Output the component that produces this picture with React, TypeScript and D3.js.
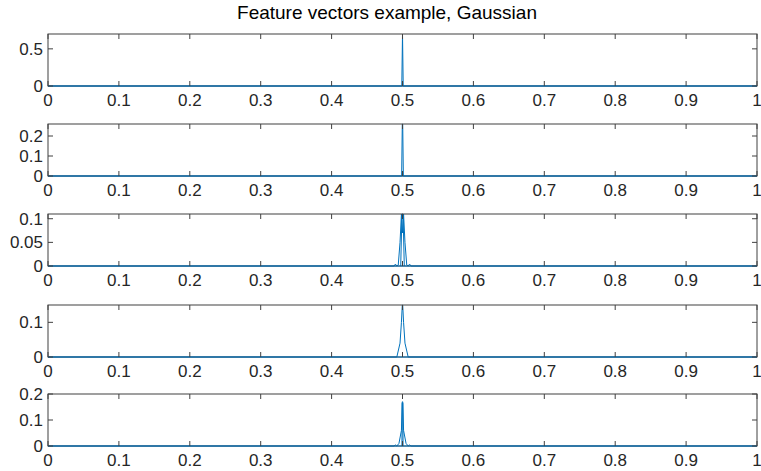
import * as d3 from 'd3'

// x axis ticks shared by every panel
const xTicks = [0, 0.1, 0.2, 0.3, 0.4, 0.5, 0.6, 0.7, 0.8, 0.9, 1]
const xTickLabels = ['0', '0.1', '0.2', '0.3', '0.4', '0.5', '0.6', '0.7', '0.8', '0.9', '1']

// y range and ticks per panel
const panelYMax = [0.7, 0.26, 0.11, 0.15, 0.2]
const panelYTicks = [
  [0, 0.5],
  [0, 0.1, 0.2],
  [0, 0.05, 0.1],
  [0, 0.1],
  [0, 0.1, 0.2],
]

// feature vectors (x, value); zero everywhere except around 0.5
const panel1: [number, number][][] = [
  [[0, 0], [0.499, 0], [0.5, 0.7], [0.501, 0], [1, 0]],
]
const panel2: [number, number][][] = [
  [[0, 0], [0.4988, 0], [0.4997, 0.26], [0.5003, 0.26], [0.5012, 0], [1, 0]],
]
const panel3: [number, number][][] = [
  [
    [0, 0], [0.488, 0], [0.49, 0.004], [0.492, 0], [0.494, 0.002], [0.4965, 0.05],
    [0.4985, 0.11], [0.5, 0.07], [0.5015, 0.11], [0.5035, 0.05], [0.506, 0.002],
    [0.508, 0], [0.51, 0.004], [0.512, 0], [1, 0],
  ],
  [[0.4975, 0], [0.4992, 0.11], [0.5, 0.11], [0.5008, 0.11], [0.5025, 0]],
]
const panel4: [number, number][][] = [
  [
    [0, 0], [0.492, 0], [0.4965, 0.04], [0.4985, 0.1], [0.4997, 0.15],
    [0.5003, 0.15], [0.5015, 0.1], [0.5035, 0.04], [0.508, 0], [1, 0],
  ],
]
const panel5: [number, number][][] = [
  [
    [0, 0], [0.488, 0], [0.49, 0.004], [0.492, 0], [0.495, 0.01], [0.4985, 0.06],
    [0.4996, 0.17], [0.5004, 0.17], [0.5015, 0.06], [0.505, 0.01], [0.508, 0],
    [0.51, 0.004], [0.512, 0], [1, 0],
  ],
  [[0.4992, 0], [0.4996, 0.165], [0.5, 0.165], [0.5004, 0.165], [0.5008, 0]],
]
const panels = [panel1, panel2, panel3, panel4, panel5]

const width = 761
const height = 471
const left = 48
const right = 757
const panelTops = [34, 124, 214, 305, 394]
const panelHeight = 52
const tickLen = 5
const axisColor = '#404040'
const lineColor = '#0072BD'
const font = 'Liberation Sans, Arial, Helvetica, sans-serif'

const x = d3.scaleLinear().domain([0, 1]).range([left, right])

const Panel = ({ idx }: { idx: number }) => {
  const top = panelTops[idx]
  const bottom = top + panelHeight
  const y = d3.scaleLinear().domain([0, panelYMax[idx]]).range([bottom, top])
  const line = d3
    .line<[number, number]>()
    .x((d) => x(d[0]))
    .y((d) => y(d[1]))

  return (
    <g>
      {panels[idx].map((s, i) => (
        <path key={i} d={line(s) || ''} fill="none" stroke={lineColor} strokeWidth={1} />
      ))}
      <rect
        x={left}
        y={top}
        width={right - left}
        height={panelHeight}
        fill="none"
        stroke={axisColor}
        strokeWidth={1}
      />
      <line x1={left} x2={right} y1={bottom} y2={bottom} stroke={lineColor} strokeWidth={1} />
      {xTicks.map((t, i) => (
        <g key={'xt' + i}>
          <line x1={x(t)} x2={x(t)} y1={bottom} y2={bottom - tickLen} stroke={axisColor} />
          <line x1={x(t)} x2={x(t)} y1={top} y2={top + tickLen} stroke={axisColor} />
          <text
            x={x(t)}
            y={bottom + 20}
            fontSize={17}
            fontFamily={font}
            fill="#262626"
            textAnchor="middle"
          >
            {xTickLabels[i]}
          </text>
        </g>
      ))}
      {panelYTicks[idx].map((t, i) => (
        <g key={'yt' + i}>
          <line x1={left} x2={left + tickLen} y1={y(t)} y2={y(t)} stroke={axisColor} />
          <line x1={right} x2={right - tickLen} y1={y(t)} y2={y(t)} stroke={axisColor} />
          <text
            x={left - 5}
            y={y(t) + 6}
            fontSize={17}
            fontFamily={font}
            fill="#262626"
            textAnchor="end"
          >
            {String(t)}
          </text>
        </g>
      ))}
    </g>
  )
}

export default function App() {
  return (
    <svg
      width={width}
      height={height}
      style={{ position: 'absolute', left: 0, top: 0, background: 'white' }}
    >
      <rect width={width} height={height} fill="white" />
      <text x={387} y={19} fontSize={19} fontFamily={font} fill="#000" textAnchor="middle">
        Feature vectors example, Gaussian
      </text>
      {panelTops.map((_, i) => (
        <Panel key={i} idx={i} />
      ))}
    </svg>
  )
}
